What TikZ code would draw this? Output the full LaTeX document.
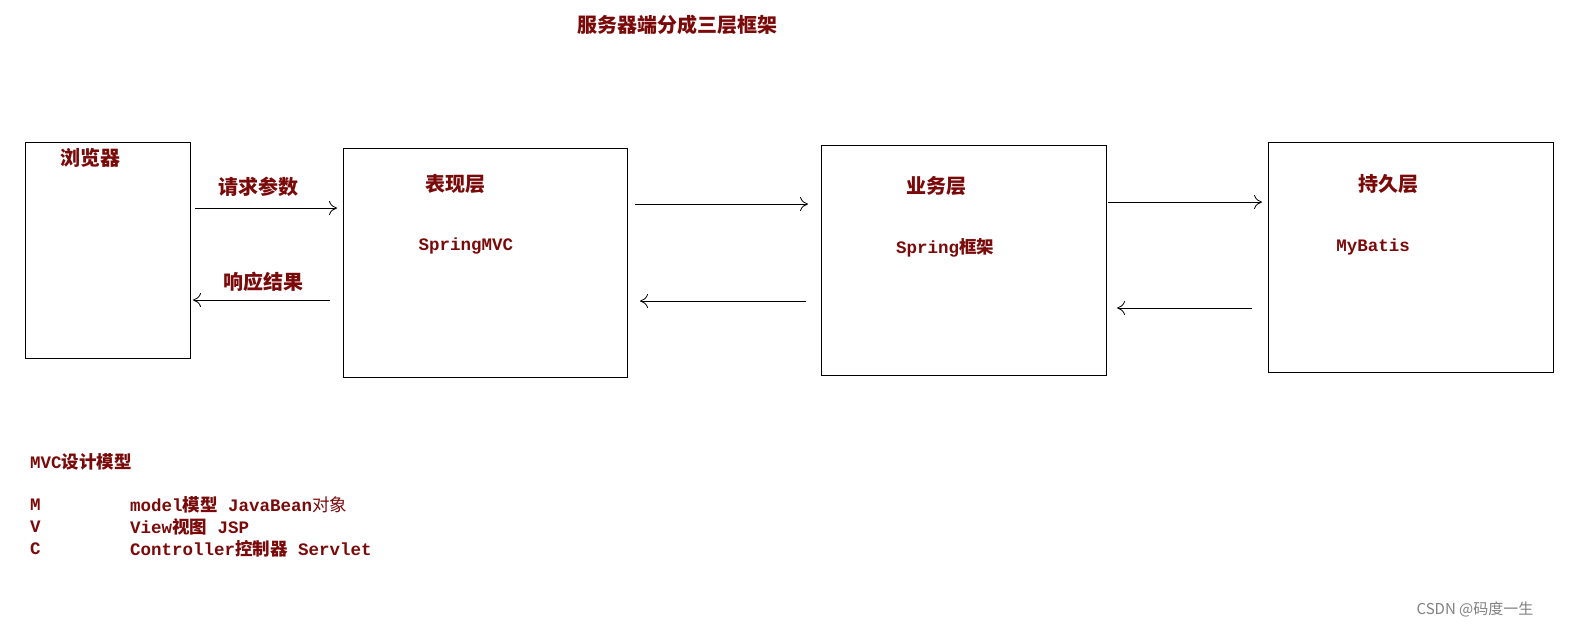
\documentclass[tikz,border=0pt]{standalone}
\usepackage{fontspec}
\setmainfont{Liberation Sans}
\newfontfamily\cjk{Noto Sans CJK SC}
\newfontfamily\mono{Liberation Mono}
\usetikzlibrary{arrows.meta}
\definecolor{dred}{HTML}{7A0A0A}
\begin{document}
\begin{tikzpicture}[x=1pt,y=-1pt,
  box/.style={draw,line width=1pt},
  lbl/.style={text=dred,font=\cjk\bfseries\fontsize{20}{23}\selectfont,inner sep=0pt},
  ml/.style={text=dred,font=\mono\bfseries\fontsize{17.5}{20}\selectfont,inner sep=0pt},
  conn/.style={line width=0.8pt,-{To[length=8pt,width=14pt]}}]
\useasboundingbox (0,0) rectangle (1594,638);
\node[lbl] (title) at (677,25) {服务器端分成三层框架};
\draw[box] (25,142) rectangle (190,358);
\draw[box] (343,148) rectangle (627,377);
\draw[box] (821,145) rectangle (1106,375);
\draw[box] (1268,142) rectangle (1553,372);
\node[lbl] (b) at (90,158) {浏览器};
\node[lbl] (p) at (455,184) {表现层};
\node[ml] (pm) at (466,246) {SpringMVC};
\node[lbl] (s) at (936,186) {业务层};
\node[ml,anchor=west] (sm) at (896,248) {Spring{\cjk 框架}};
\node[lbl] (d) at (1388,184) {持久层};
\node[ml] (dm) at (1373,247) {MyBatis};
\coordinate (a1) at (195,208); \coordinate (a2) at (337,208);
\coordinate (a3) at (330,300); \coordinate (a4) at (193,300);
\coordinate (a5) at (635,204); \coordinate (a6) at (808,204);
\coordinate (a7) at (806,301); \coordinate (a8) at (640,301);
\coordinate (a9) at (1108,202); \coordinate (a10) at (1262,202);
\coordinate (a11) at (1252,308); \coordinate (a12) at (1117,308);
\draw[conn] (a1) -- (a2);
\draw[conn] (a3) -- (a4);
\draw[conn] (a5) -- (a6);
\draw[conn] (a7) -- (a8);
\draw[conn] (a9) -- (a10);
\draw[conn] (a11) -- (a12);
\node[lbl] (q) at (258,187) {请求参数};
\node[lbl] (r) at (263,282) {响应结果};
\node[ml,anchor=west] (mvc) at (30,462) {MVC{\cjk 设计模型}};
\node[ml,anchor=west] (m) at (30,505) {M};
\node[ml,anchor=west] (v) at (30,527) {V};
\node[ml,anchor=west] (c) at (30,549) {C};
\node[ml,anchor=west] (mt) at (130,505) {model{\cjk 模型} JavaBean{\cjk\mdseries 对象}};
\node[ml,anchor=west] (vt) at (130,527) {View{\cjk 视图} JSP};
\node[ml,anchor=west] (ct) at (130,549) {Controller{\cjk 控制器} Servlet};
\node[text=gray,font=\cjk\fontsize{15}{17}\selectfont,inner sep=0pt] (w) at (1475,609) {CSDN @码度一生};
\end{tikzpicture}
\end{document}
